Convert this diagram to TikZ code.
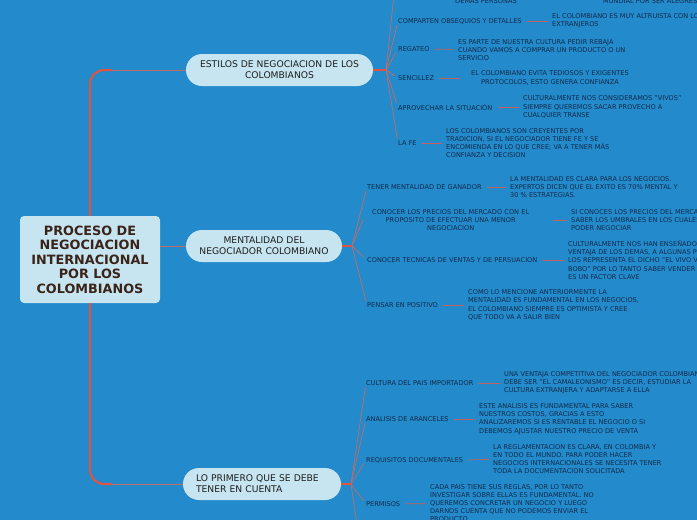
\documentclass[tikz,border=0pt]{standalone}
\usepackage{fontspec}
\setmainfont{DejaVu Sans}
\definecolor{bg}{HTML}{238ACB}
\definecolor{pill}{HTML}{C6E5F0}
\definecolor{roottxt}{HTML}{3A2318}
\definecolor{maintxt}{HTML}{1E1E1E}
\definecolor{leaftxt}{HTML}{132B4A}
\definecolor{trunkc}{HTML}{E5533D}
\definecolor{branchc}{HTML}{BF6D68}
\definecolor{connc}{HTML}{C5605A}
\newcommand{\lfnt}{\fontsize{6.6}{8.2}\selectfont}
\newcommand{\mfnt}{\fontsize{9.2}{11}\selectfont}
\newcommand{\rfnt}{\bfseries\fontsize{12.8}{14.5}\selectfont}
\begin{document}
\begin{tikzpicture}[x=1pt,y=-1pt,
  rootbox/.style={draw=none,fill=pill,rounded corners=4pt,minimum width=140pt,minimum height=87pt,align=center,font=\rfnt,text=roottxt,inner sep=0pt},
  pillbox/.style={draw=none,fill=pill,rounded corners=16pt,minimum height=32pt,align=center,font=\mfnt,text=maintxt,inner sep=0pt},
  lbl/.style={anchor=west,inner sep=0pt,font=\lfnt,text=leaftxt,align=left},
  desc/.style={anchor=west,inner sep=0pt,font=\lfnt,text=leaftxt,align=left},
  trunk/.style={draw=trunkc,line width=2pt},
  fork/.style={draw=trunkc,line width=1.8pt},
  branch/.style={draw=branchc,line width=0.7pt},
  conn/.style={draw=connc,line width=0.7pt,shorten <=5pt,shorten >=4pt}
]
\fill[bg] (0,0) rectangle (697,520);
\useasboundingbox (0,0) rectangle (697,520);
\clip (0,0) rectangle (697,520);

% root and main nodes
\node[rootbox] (root) at (90,259.5) {PROCESO DE\\NEGOCIACION\\INTERNACIONAL\\POR LOS\\COLOMBIANOS};
\node[pillbox,minimum width=187pt] (estilos) at (279.5,70) {ESTILOS DE NEGOCIACION DE LOS\\COLOMBIANOS};
\node[pillbox,minimum width=156pt] (mental) at (264,246) {MENTALIDAD DEL\\NEGOCIADOR COLOMBIANO};
\node[pillbox,minimum width=158pt,align=left,text width=132pt,inner xsep=13pt] (primero) at (262,484) {LO PRIMERO QUE SE DEBE\\TENER EN CUENTA};

\coordinate (t1) at (112,70);
\coordinate (t2) at (112,484);
\draw[trunk,rounded corners=14pt] (root.north) |- (t1);
\draw[trunk,rounded corners=14pt] (root.south) |- (t2);
\draw[branch] (t1) -- (estilos.west);
\draw[branch] (t2) -- (primero.west);
\draw[branch] (mental.west) -- (mental.west -| root.east);

% forks
\coordinate (fe) at (386,70);
\coordinate (fm) at (352,246);
\coordinate (fp) at (351,484);
\draw[fork] (estilos.east) -- (fe);
\draw[fork] (mental.east) -- (fm);
\draw[fork] (primero.east) -- (fp);

% ESTILOS children
\coordinate (e0) at (395,-14);
\node[inner sep=0pt,font=\lfnt,text=leaftxt] (e0l) at (486,1) {DEMAS PERSONAS};
\node[desc] (e0d) at (603,1) {MUNDIAL POR SER ALEGRES};
\node[lbl] (e1) at (398,21) {COMPARTEN OBSEQUIOS Y DETALLES};
\node[desc] (e1d) at (552,21) {EL COLOMBIANO ES MUY ALTRUISTA CON LOS\\EXTRANJEROS};
\node[lbl] (e2) at (398,49) {REGATEO};
\node[desc] (e2d) at (458,50) {ES PARTE DE NUESTRA CULTURA PEDIR REBAJA\\CUANDO VAMOS A COMPRAR UN PRODUCTO O UN\\SERVICIO};
\node[lbl] (e3) at (398,78) {SENCILLEZ};
\node[desc,align=center] (e3d) at (471,78) {EL COLOMBIANO EVITA TEDIOSOS Y EXIGENTES\\PROTOCOLOS, ESTO GENERA CONFIANZA};
\node[lbl] (e4) at (398,107) {APROVECHAR LA SITUACIÓN};
\node[desc] (e4d) at (523,107) {CULTURALMENTE NOS CONSIDERAMOS "VIVOS"\\SIEMPRE QUEREMOS SACAR PROVECHO A\\CUALQUIER TRANSE};
\node[lbl] (e5) at (398,143) {LA FE};
\node[desc] (e5d) at (446,143) {LOS COLOMBIANOS SON CREYENTES POR\\TRADICION, SI EL NEGOCIADOR TIENE FE Y SE\\ENCOMIENDA EN LO QUE CREE; VA A TENER MÁS\\CONFIANZA Y DECISION};
\draw[branch] (fe) -- (e0);
\foreach \n in {e1,e2,e3,e4,e5} \draw[branch,shorten >=4pt] (fe) -- (\n.west);
\draw[conn] (e1) -- (e1d);
\draw[conn] (e2) -- (e2d);
\draw[conn,shorten >=11pt] (e3) -- (e3d);
\draw[conn] (e4) -- (e4d);
\draw[conn] (e5) -- (e5d);

% MENTALIDAD children
\node[lbl] (m1) at (367,187) {TENER MENTALIDAD DE GANADOR};
\node[desc] (m1d) at (510,187) {LA MENTALIDAD ES CLARA PARA LOS NEGOCIOS.\\EXPERTOS DICEN QUE EL EXITO ES 70\% MENTAL Y\\30 \% ESTRATEGIAS.};
\node[lbl,align=center,text width=175pt] (m2) at (363,220) {CONOCER LOS PRECIOS DEL MERCADO CON EL\\PROPOSITO DE EFECTUAR UNA MENOR\\NEGOCIACION};
\node[desc] (m2d) at (571,220) {SI CONOCES LOS PRECIOS DEL MERCADO\\SABER LOS UMBRALES EN LOS CUALES\\PODER NEGOCIAR};
\node[lbl] (m3) at (367,260) {CONOCER TECNICAS DE VENTAS Y DE PERSUACION};
\node[desc] (m3d) at (568,260) {CULTURALMENTE NOS HAN ENSEÑADO A SACAR\\VENTAJA DE LOS DEMAS, A ALGUNAS PERSONAS\\LOS REPRESENTA EL DICHO "EL VIVO VIVE DEL\\BOBO" POR LO TANTO SABER VENDER\\ES UN FACTOR CLAVE};
\node[lbl] (m4) at (367,305) {PENSAR EN POSITIVO};
\node[desc] (m4d) at (468,305) {COMO LO MENCIONE ANTERIORMENTE LA\\MENTALIDAD ES FUNDAMENTAL EN LOS NEGOCIOS,\\EL COLOMBIANO SIEMPRE ES OPTIMISTA Y CREE\\QUE TODO VA A SALIR BIEN};
\foreach \n in {m1,m3,m4} \draw[branch,shorten >=4pt] (fm) -- (\n.west);
\draw[branch] (fm) -- (m2.west);
\draw[conn] (m1) -- (m1d);
\draw[conn,shorten <=15pt] (m2) -- (m2d);
\draw[conn] (m3) -- (m3d);
\draw[conn] (m4) -- (m4d);

% LO PRIMERO children
\node[lbl] (p1) at (366,383) {CULTURA DEL PAIS IMPORTADOR};
\node[desc] (p1d) at (504,383) {UNA VENTAJA COMPETITIVA DEL NEGOCIADOR COLOMBIANO\\DEBE SER "EL CAMALEONISMO" ES DECIR, ESTUDIAR LA\\CULTURA EXTRANJERA Y ADAPTARSE A ELLA};
\node[lbl] (p2) at (366,419) {ANALISIS DE ARANCELES};
\node[desc] (p2d) at (479,419) {ESTE ANALISIS ES FUNDAMENTAL PARA SABER\\NUESTROS COSTOS, GRACIAS A ESTO\\ANALIZAREMOS SI ES RENTABLE EL NEGOCIO O SI\\DEBEMOS AJUSTAR NUESTRO PRECIO DE VENTA};
\node[lbl] (p3) at (366,460) {REQUISITOS DOCUMENTALES};
\node[desc] (p3d) at (493,459) {LA REGLAMENTACION ES CLARA, EN COLOMBIA Y\\EN TODO EL MUNDO. PARA PODER HACER\\NEGOCIOS INTERNACIONALES SE NECESITA TENER\\TODA LA DOCUMENTACION SOLICITADA};
\node[lbl] (p4) at (366,504) {PERMISOS};
\node[desc] (p4d) at (430,503) {CADA PAIS TIENE SUS REGLAS, POR LO TANTO\\INVESTIGAR SOBRE ELLAS ES FUNDAMENTAL. NO\\QUEREMOS CONCRETAR UN NEGOCIO Y LUEGO\\DARNOS CUENTA QUE NO PODEMOS ENVIAR EL\\PRODUCTO};
\coordinate (p5) at (360,545);
\foreach \n in {p1,p2,p3,p4} \draw[branch,shorten >=4pt] (fp) -- (\n.west);
\draw[branch] (fp) -- (p5);
\draw[conn] (p1) -- (p1d);
\draw[conn] (p2) -- (p2d);
\draw[conn] (p3) -- (p3d);
\draw[conn] (p4) -- (p4d);
\end{tikzpicture}
\end{document}
